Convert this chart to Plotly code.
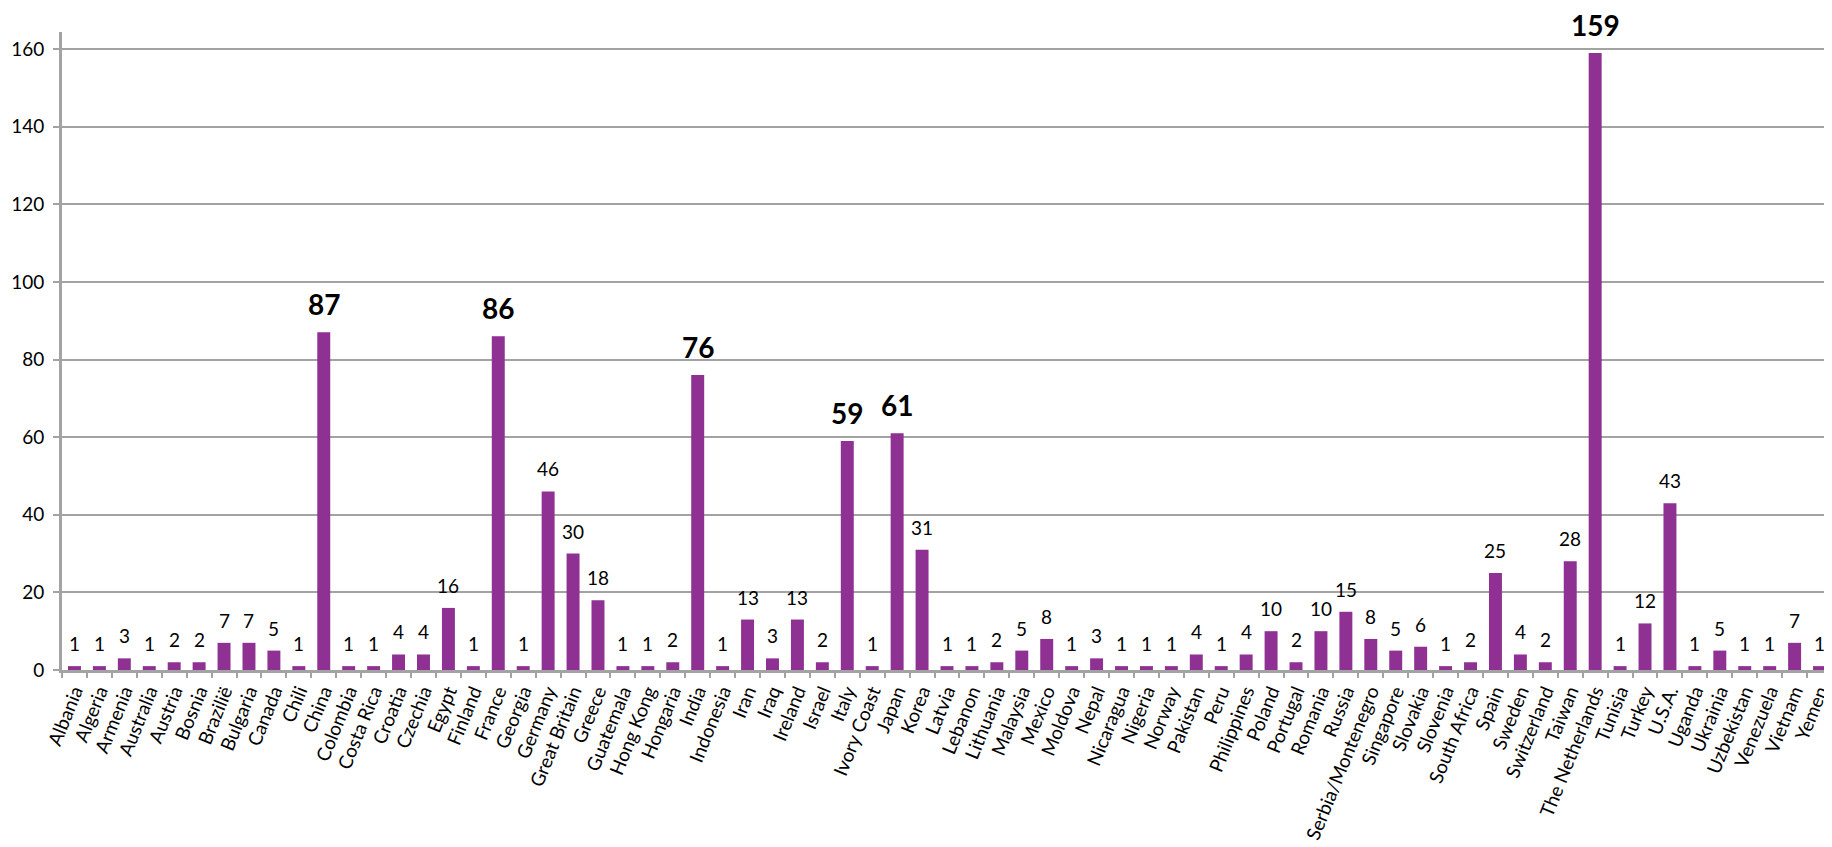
import plotly.graph_objects as go

countries = [
    "Albania", "Algeria", "Armenia", "Australia", "Austria", "Bosnia", "Brazilië",
    "Bulgaria", "Canada", "Chili", "China", "Colombia", "Costa Rica", "Croatia",
    "Czechia", "Egypt", "Finland", "France", "Georgia", "Germany", "Great Britain",
    "Greece", "Guatemala", "Hong Kong", "Hongaria", "India", "Indonesia", "Iran",
    "Iraq", "Ireland", "Israel", "Italy", "Ivory Coast", "Japan", "Korea", "Latvia",
    "Lebanon", "Lithuania", "Malaysia", "Mexico", "Moldova", "Nepal", "Nicaragua",
    "Nigeria", "Norway", "Pakistan", "Peru", "Philippines", "Poland", "Portugal",
    "Romania", "Russia", "Serbia/Montenegro", "Singapore", "Slovakia", "Slovenia",
    "South Africa", "Spain", "Sweden", "Switzerland", "Taiwan", "The Netherlands",
    "Tunisia", "Turkey", "U.S.A.", "Uganda", "Ukrainia", "Uzbekistan", "Venezuela",
    "Vietnam", "Yemen",
]
values = [
    1, 1, 3, 1, 2, 2, 7,
    7, 5, 1, 87, 1, 1, 4,
    4, 16, 1, 86, 1, 46, 30,
    18, 1, 1, 2, 76, 1, 13,
    3, 13, 2, 59, 1, 61, 31, 1,
    1, 2, 5, 8, 1, 3, 1,
    1, 1, 4, 1, 4, 10, 2,
    10, 15, 8, 5, 6, 1,
    2, 25, 4, 2, 28, 159,
    1, 12, 43, 1, 5, 1, 1,
    7, 1,
]
y_ticks = [0, 20, 40, 60, 80, 100, 120, 140, 160]

FONT = "Lato, 'Open Sans', sans-serif"
PURPLE = "#8E3192"
GRID = "#A3A3A3"

fig = go.Figure(
    go.Bar(
        x=countries,
        y=values,
        marker=dict(color=PURPLE, line=dict(width=0)),
        hoverinfo="x+y",
    )
)

annotations = []
for c, v in zip(countries, values):
    big = v >= 50
    annotations.append(dict(
        x=c, y=v, xref="x", yref="y",
        text=f"<b>{v}</b>" if big else str(v),
        showarrow=False, yanchor="bottom",
        yshift=10, borderpad=0,
        font=dict(family=FONT, size=28 if big else 19, color="black"),
    ))

# The page body has an 8px default margin, so the figure is sized/offset to fit the window.
fig.update_layout(
    width=1824, height=839,
    margin=dict(l=54, r=0, t=24, b=177),
    paper_bgcolor="white", plot_bgcolor="white",
    bargap=0.48,
    showlegend=False,
    font=dict(family=FONT, size=20, color="black"),
    annotations=annotations,
)
fig.update_xaxes(
    type="category",
    tickangle=-68,
    tickson="boundaries",
    ticks="outside", ticklen=5, tickwidth=2, tickcolor=GRID,
    showline=True, linecolor=GRID, linewidth=3,
    showgrid=False,
    tickfont=dict(family=FONT, size=19, color="black"),
    ticklabelstandoff=0,
    automargin=False,
)
fig.update_yaxes(
    range=[0, 164.4],
    tickvals=y_ticks,
    ticks="outside", ticklen=6, tickwidth=2, tickcolor=GRID,
    showline=True, linecolor=GRID, linewidth=3,
    showgrid=True, gridcolor=GRID, gridwidth=2,
    zeroline=False,
    tickfont=dict(family=FONT, size=19, color="black"),
    ticklabelstandoff=5,
    automargin=False,
)

fig.write_html("out.html")
